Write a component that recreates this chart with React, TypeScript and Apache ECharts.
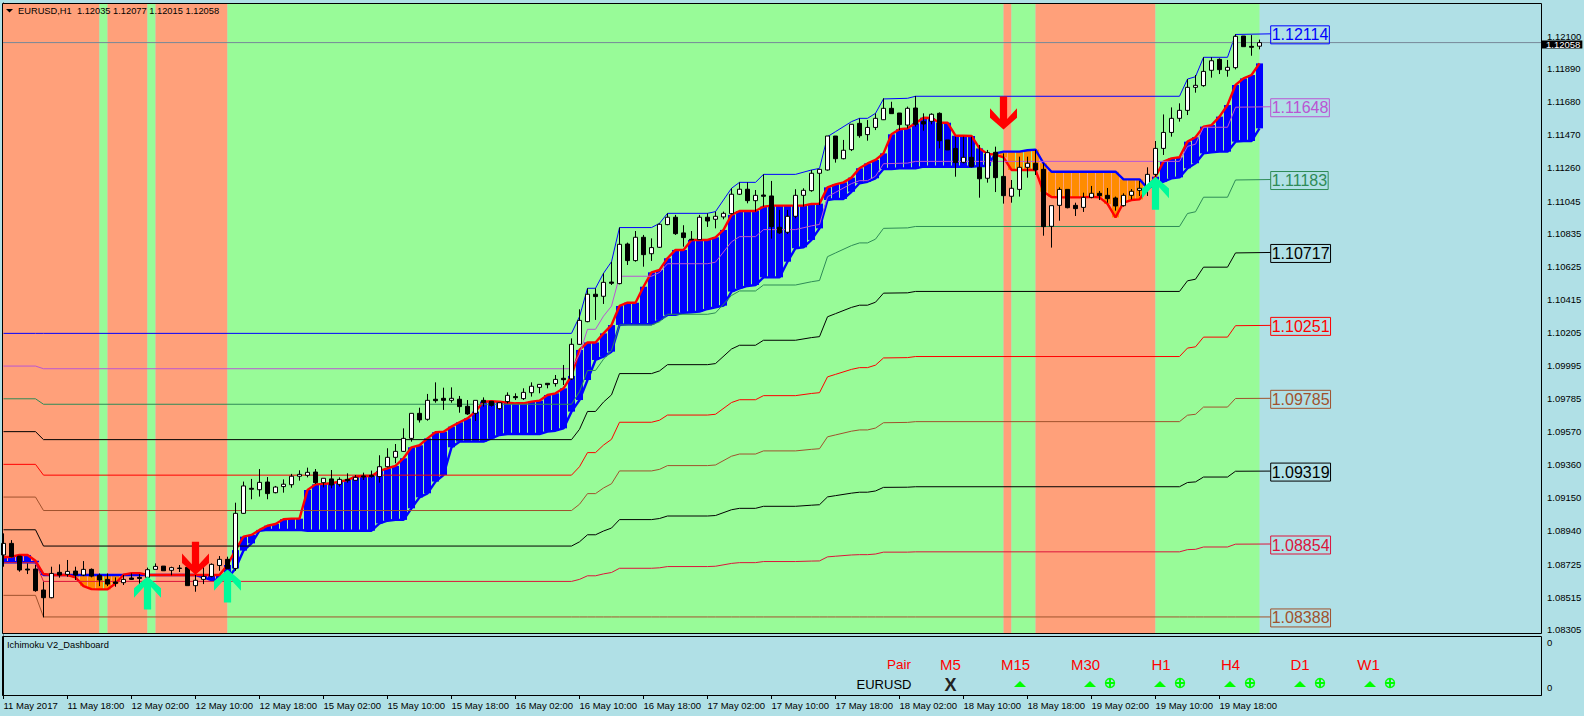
import React, { useEffect, useRef } from "react";
import * as echarts from "echarts";

// All price values below are in points above 1.08000 (1 point = 0.00001).
const BASE_PRICE = 1.08;
const price = (pts: number) => +(BASE_PRICE + pts / 100000).toFixed(5);

// [open, close, low, high]
const candles: number[][] = [
  [784,858,709,922],[858,773,769,879],[777,688,677,777],[694,688,662,730],[694,556,549,720],[560,511,385,613],[511,666,507,709],[673,656,639,724],
  [660,679,645,752],[681,656,624,709],[656,692,649,745],[692,649,641,698],[654,624,585,666],[628,598,585,666],[611,602,581,641],[607,628,592,656],
  [637,628,624,666],[641,634,598,662],[641,690,634,703],[692,711,692,730],[713,683,683,713],[686,703,654,709],[700,698,675,720],[705,588,588,705],
  [588,622,549,656],[628,647,598,726],[647,724,641,730],[717,756,683,777],[756,696,692,773],[698,1050,683,1118],[1050,1225,1046,1253],[1210,1204,1140,1270],
  [1201,1248,1157,1333],[1250,1176,1140,1282],[1182,1218,1178,1225],[1221,1236,1182,1267],[1233,1287,1214,1302],[1287,1299,1259,1325],[1293,1312,1280,1342],[1314,1246,1238,1333],
  [1246,1274,1216,1274],[1270,1231,1210,1327],[1235,1267,1221,1280],[1267,1259,1246,1306],[1261,1280,1259,1295],[1289,1282,1263,1310],[1293,1285,1278,1323],[1285,1348,1246,1421],
  [1348,1408,1344,1466],[1408,1446,1370,1493],[1446,1529,1442,1593],[1529,1689,1508,1689],[1689,1647,1630,1725],[1651,1772,1642,1813],[1779,1770,1757,1887],[1785,1772,1711,1853],
  [1772,1785,1757,1855],[1779,1732,1693,1800],[1734,1685,1679,1774],[1689,1772,1640,1772],[1772,1759,1732,1791],[1766,1740,1732,1766],[1719,1757,1711,1757],[1764,1804,1753,1823],
  [1796,1789,1774,1817],[1783,1823,1774,1849],[1821,1862,1796,1887],[1855,1874,1817,1874],[1881,1872,1849,1881],[1879,1906,1860,1934],[1913,1904,1870,1998],[1909,2130,1902,2168],
  [2130,2283,2126,2354],[2275,2450,2271,2488],[2450,2435,2286,2488],[2437,2526,2388,2584],[2528,2520,2509,2658],[2518,2769,2513,2876],[2771,2665,2637,2780],[2665,2814,2658,2854],
  [2814,2703,2626,2829],[2709,2748,2663,2807],[2750,2897,2746,2903],[2895,2942,2891,2967],[2942,2837,2829,2957],[2842,2812,2754,2891],[2801,2797,2797,2854],[2799,2942,2797,2957],
  [2942,2918,2880,2967],[2929,2948,2871,2978],[2944,2967,2929,2978],[2965,3089,2961,3127],[3089,3121,3084,3165],[3121,3048,3031,3165],[3048,3082,2978,3116],[3084,3076,3010,3216],
  [3078,2882,2805,3174],[2878,2842,2835,2989],[2846,2948,2835,2989],[2948,3082,2935,3121],[3082,3114,3010,3127],[3112,3223,3105,3244],[3223,3248,3020,3248],[3244,3461,3240,3461],
  [3461,3316,3291,3461],[3316,3370,3312,3436],[3374,3536,3365,3536],[3542,3463,3450,3574],[3470,3516,3431,3563],[3516,3574,3499,3606],[3565,3638,3563,3702],[3638,3604,3604,3680],
  [3608,3534,3499,3608],[3531,3638,3510,3649],[3640,3536,3521,3717],[3553,3538,3495,3606],[3555,3600,3536,3606],[3606,3431,3382,3612],[3436,3372,3372,3436],[3382,3291,3201,3457],
  [3293,3325,3286,3457],[3325,3265,3261,3457],[3261,3188,3067,3404],[3191,3355,3163,3372],[3357,3195,3103,3393],[3203,3080,3029,3350],[3076,3127,3035,3180],[3120,3261,3074,3329],
  [3261,3287,3195,3329],[3287,3244,3212,3372],[3248,2882,2824,3287],[2884,3016,2748,3016],[3018,3120,2920,3133],[3120,3003,2999,3120],[3018,2997,2950,3035],[3005,3069,2976,3099],
  [3069,3095,3063,3142],[3095,3080,3052,3110],[3082,3061,3035,3129],[3065,3014,2984,3074],[3016,3082,3010,3095],[3082,3108,3056,3122],[3114,3127,3078,3174],[3125,3216,3078,3261],
  [3216,3382,3201,3429],[3382,3484,3340,3599],[3484,3574,3457,3644],[3574,3625,3553,3670],[3625,3772,3595,3825],[3772,3785,3738,3851],[3783,3874,3776,3964],[3881,3942,3834,3964],
  [3951,3885,3857,3957],[3881,3900,3840,3947],[3898,4098,3887,4111],[4100,4032,4032,4100],[4034,4028,3974,4106],[4035,4058,4015,4077],
];

const senkouA: number[] = [
  769,773,784,784,747,662,656,656,656,641,585,566,564,564,602,658,668,668,656,656,656,656,656,656,656,656,656,656,720,815,
  901,912,944,971,982,1012,1016,1016,1199,1235,1238,1242,1253,1263,1285,1289,1289,1321,1338,1353,1402,1472,1485,1529,1568,1572,1604,1632,1657,1700,
  1764,1766,1764,1757,1753,1753,1764,1770,1806,1817,1849,1928,2094,2142,2142,2200,2253,2375,2396,2396,2498,2590,2605,2680,2733,2733,2797,2797,2797,2814,
  2861,2957,2982,2982,2982,3010,3016,3016,3016,3016,3016,3027,3029,3133,3152,3165,3195,3255,3286,3308,3350,3472,3504,3510,3542,3578,3576,3546,3546,3463,
  3463,3461,3382,3346,3342,3325,3244,3244,3244,3244,3105,3071,3069,3069,3069,3069,3073,3069,3027,2941,3035,3052,3056,3127,3201,3297,3318,3325,3425,3453,
  3521,3531,3585,3659,3787,3829,3851,3925,
];

const senkouB: number[] = [
  737,737,737,737,737,656,656,656,656,656,656,656,656,656,656,656,656,656,656,656,656,656,656,656,656,641,624,628,634,698,
  812,858,939,944,944,944,944,944,939,939,939,939,939,939,939,939,939,986,1003,1008,1008,1082,1152,1178,1253,1295,1472,1508,1508,1508,
  1508,1529,1551,1557,1557,1557,1557,1557,1572,1578,1593,1700,1774,1902,2030,2051,2083,2254,2258,2258,2258,2258,2286,2318,2318,2332,2335,2339,2356,2367,
  2377,2467,2488,2503,2509,2558,2558,2558,2658,2744,2750,2797,2871,3052,3059,3059,3105,3159,3169,3191,3250,3250,3254,3254,3254,3265,3265,3265,3265,3265,
  3265,3265,3269,3269,3350,3361,3361,3361,3370,3374,3287,3233,3233,3233,3233,3233,3233,3233,3233,3233,3184,3184,3184,3127,3148,3169,3191,3197,3255,3287,
  3350,3357,3361,3361,3425,3429,3429,3510,
];

// Candle indices at which the nine horizontal levels change
const levelKnots: number[] = [0,4,5,71,72,73,74,75,76,77,81,82,83,88,89,91,92,94,95,99,101,102,103,104,106,107,108,109,110,113,114,147,148,149,150,153,154,158.4];

const level1Blue: number[] = [2200,2200,2200,2200,2307,2488,2488,2584,2658,2876,2876,2903,2967,2967,2978,3127,3165,3165,3216,3216,3244,3254,3457,3489,3553,3574,3574,3606,3698,3702,3715,3715,3825,3840,3964,3964,4110,4114];
const level2Purple: number[] = [1991,1991,1974,1974,2067,2226,2226,2310,2374,2565,2565,2589,2645,2645,2655,2785,2818,2818,2863,2863,2887,2896,3073,3101,3157,3176,3176,3204,3284,3288,3299,3299,3395,3409,3517,3517,3645,3648];
const level3Green: number[] = [1782,1782,1747,1747,1827,1963,1963,2035,2091,2254,2254,2274,2322,2322,2331,2442,2471,2471,2509,2509,2530,2538,2690,2714,2761,2778,2778,2802,2871,2874,2883,2883,2966,2977,3070,3070,3180,3183];
const level4Black: number[] = [1572,1572,1521,1521,1587,1701,1701,1761,1807,1943,1943,1960,2000,2000,2007,2100,2124,2124,2156,2156,2173,2179,2306,2326,2366,2380,2380,2399,2457,2459,2468,2468,2536,2546,2623,2623,2714,2717];
const level5Red: number[] = [1363,1363,1294,1294,1348,1438,1438,1486,1523,1632,1632,1645,1678,1678,1683,1758,1776,1776,1802,1802,1816,1821,1922,1938,1970,1981,1981,1997,2043,2045,2052,2052,2106,2114,2176,2176,2249,2251];
const level6Brown: number[] = [1154,1154,1068,1068,1108,1176,1176,1212,1239,1321,1321,1331,1355,1355,1359,1415,1429,1429,1449,1449,1459,1463,1539,1551,1575,1583,1583,1595,1629,1631,1636,1636,1677,1683,1729,1729,1784,1785];
const level7Black: number[] = [945,945,841,841,868,913,913,937,956,1010,1010,1017,1033,1033,1036,1073,1082,1082,1095,1095,1102,1105,1155,1163,1179,1185,1185,1193,1216,1217,1220,1220,1247,1251,1282,1282,1319,1320];
const level8Red: number[] = [735,735,615,615,628,651,651,663,672,699,699,702,710,710,712,730,735,735,742,742,745,746,772,776,784,786,786,790,802,802,804,804,818,820,835,835,853,854];
const level9Brown: number[] = [526,526,388,388,388,388,388,388,388,388,388,388,388,388,388,388,388,388,388,388,388,388,388,388,388,388,388,388,388,388,388,388,388,388,388,388,388,388];

const levelLabels = ["1.12114","1.11648","1.11183","1.10717","1.10251","1.09785","1.09319","1.08854","1.08388"];

const arrowsUp: number[][] = [[18,541],[28,586],[144,3095]];
const arrowsDown: number[][] = [[24,763],[125,3608]];

// [from candle, to candle, kind: 0 salmon, 1 green]
const zones: number[][] = [[-1,12,0],[12,13,1],[13,18,0],[18,19,1],[19,28,0],[28,125,1],[125,126,0],[126,129,1],[129,144,0],[144,157,1]];

const lastPricePts = 4058;

const priceTicks = ["1.12100","1.11890","1.11680","1.11470","1.11260","1.11045","1.10835","1.10625","1.10415","1.10205","1.09995","1.09785","1.09570","1.09360","1.09150","1.08940","1.08725","1.08515","1.08305"];
const timeTicks = ["11 May 2017","11 May 18:00","12 May 02:00","12 May 10:00","12 May 18:00","15 May 02:00","15 May 10:00","15 May 18:00","16 May 02:00","16 May 10:00","16 May 18:00","17 May 02:00","17 May 10:00","17 May 18:00","18 May 02:00","18 May 10:00","18 May 18:00","19 May 02:00","19 May 10:00","19 May 18:00"];
const dashboardFrames = ["M5","M15","M30","H1","H4","D1","W1"];
const chartTitle = "EURUSD,H1  1.12035 1.12077 1.12015 1.12058";
const subTitle = "Ichimoku V2_Dashboard";

// ---- styling / layout constants ----
const FONT = "'Liberation Sans', Arial, sans-serif";
const BG = "#B0E0E6";
const ZONE_COLORS = ["#FFA07A", "#98FB98"];
const LEVEL_STYLES = ["#0000FF","#BA55D3","#2E8B57","#000000","#FF0000","#A0522D","#000000","#DC143C","#A0522D"];
const X_MIN = -0.0625;
const X_MAX = 192.1875;
const frameX = [950.5,1015.5,1085.5,1161,1230.5,1300,1368.5];
const triangleX = [1020,1090,1160,1230,1300,1370];
const crossX = [1110,1180,1250,1320,1390];
const UP_ARROW = "path://M41 0L82 30L82 55L52 27L52 85L30 85L30 27L0 55L0 30Z";
const DOWN_ARROW = "path://M30 0L52 0L52 58L82 30L82 55L41 85L0 55L0 30L30 58Z";

function dashboardGraphics(): any[] {
  const out: any[] = [];
  const text = (t: string, x: number, y: number, size: number, fill: string, align = "center", extra: any = {}) => ({
    type: "text", x, y, silent: true, z: 100,
    style: { text: t, fontSize: size, fontFamily: FONT, fill, align, verticalAlign: "middle", textAlign: align, textVerticalAlign: "middle", ...extra },
  });
  out.push({ type: "rect", silent: true, z: 99, shape: { x: 2.5, y: 3.5, width: 1539, height: 630 }, style: { fill: "none", stroke: "#000", lineWidth: 1 } });
  out.push({ type: "rect", silent: true, z: 99, shape: { x: 2.5, y: 636.5, width: 1539, height: 59 }, style: { fill: "none", stroke: "#000", lineWidth: 1 } });
  out.push({ type: "polygon", silent: true, z: 100, shape: { points: [[6,9],[13,9],[9.5,12.5]] }, style: { fill: "#000" } });
  out.push(text(chartTitle, 18, 11, 9.3, "#000", "left"));
  out.push(text(subTitle, 7, 644.5, 9.3, "#000", "left"));
  out.push(text("Pair", 899, 664, 13.5, "#FF0000"));
  dashboardFrames.forEach((f, i) => out.push(text(f, frameX[i], 664, 15, "#FF0000")));
  out.push(text("EURUSD", 884, 684, 13, "#000"));
  out.push(text("X", 950.5, 685, 18, "#222222", "center", { fontWeight: "bold" }));
  triangleX.forEach((x) => out.push({ type: "polygon", silent: true, z: 100, shape: { points: [[x - 6, 687],[x + 6, 687],[x, 681]] }, style: { fill: "#00FF00" } }));
  crossX.forEach((x) => {
    out.push({ type: "circle", silent: true, z: 100, shape: { cx: x, cy: 683, r: 4.5 }, style: { fill: "none", stroke: "#00FF00", lineWidth: 1.4 } });
    out.push({ type: "line", silent: true, z: 100, shape: { x1: x - 4, y1: 683, x2: x + 4, y2: 683 }, style: { stroke: "#00FF00", lineWidth: 2 } });
    out.push({ type: "line", silent: true, z: 100, shape: { x1: x, y1: 679, x2: x, y2: 687 }, style: { stroke: "#00FF00", lineWidth: 2 } });
  });
  return out;
}

function buildOption(): any {
  const levels = [level1Blue, level2Purple, level3Green, level4Black, level5Red, level6Brown, level7Black, level8Red, level9Brown];
  const levelSeries = levels.map((vals, i) => ({
    type: "line", name: levelLabels[i], xAxisIndex: 0, yAxisIndex: 0, z: 4, silent: true,
    showSymbol: false, symbol: "none",
    lineStyle: { color: LEVEL_STYLES[i], width: 1 },
    data: vals.map((v, j) => [levelKnots[j], price(v)]),
    endLabel: {
      show: true, formatter: levelLabels[i], color: LEVEL_STYLES[i], fontFamily: FONT, fontSize: 16, lineHeight: 16,
      borderColor: LEVEL_STYLES[i], borderWidth: 1, padding: [1, 1, 1, 1], distance: 0, offset: [0, 1],
    },
  }));

  return {
    animation: false,
    backgroundColor: BG,
    textStyle: { fontFamily: FONT },
    tooltip: { show: false },
    grid: [
      { left: 3, top: 3, width: 1538, height: 631, outerBoundsMode: "none" },
      { left: 3, top: 636, width: 1538, height: 59, outerBoundsMode: "none" },
    ],
    xAxis: [
      { type: "value", gridIndex: 0, min: X_MIN, max: X_MAX, show: false, splitLine: { show: false } },
      {
        type: "value", gridIndex: 1, min: X_MIN, max: X_MAX, splitLine: { show: false },
        axisLine: { show: true, lineStyle: { color: "#000" } },
        axisTick: { show: true, length: 4, lineStyle: { color: "#000" }, customValues: timeTicks.map((_, i) => i * 8) },
        axisLabel: {
          show: true, customValues: timeTicks.map((_, i) => i * 8), formatter: (v: number) => timeTicks[v / 8] ?? "",
          align: "left", margin: 5, fontSize: 9.5, fontFamily: FONT, color: "#000",
        },
      },
    ],
    yAxis: [
      {
        type: "value", gridIndex: 0, position: "right", min: price(279), max: price(4311), splitLine: { show: false },
        axisLine: { show: true, lineStyle: { color: "#000" } },
        axisTick: { show: true, length: 4, lineStyle: { color: "#000" }, customValues: priceTicks.map(Number) },
        axisLabel: {
          show: true, customValues: priceTicks.map(Number), formatter: (v: number) => v.toFixed(5),
          margin: 6, fontSize: 9.5, lineHeight: 8, fontFamily: FONT, color: "#000",
        },
      },
      {
        type: "value", gridIndex: 1, position: "right", min: 0, max: 1, splitLine: { show: false },
        axisLine: { show: true, lineStyle: { color: "#000" } },
        axisTick: { show: true, length: 4, lineStyle: { color: "#000" }, customValues: [0, 1] },
        axisLabel: { show: true, customValues: [0.124, 0.886], formatter: () => "0", margin: 6, fontSize: 9.5, fontFamily: FONT, color: "#000" },
      },
    ],
    series: [
      {
        type: "custom", name: "zones", xAxisIndex: 0, yAxisIndex: 0, z: 1, silent: true, clip: true,
        encode: { x: [0, 1] },
        data: zones,
        renderItem: (params: any, api: any) => {
          const cs = params.coordSys;
          const x0 = api.coord([api.value(0), price(2000)])[0];
          const x1 = api.coord([api.value(1), price(2000)])[0];
          return { type: "rect", shape: { x: x0, y: cs.y, width: x1 - x0, height: cs.height }, style: { fill: ZONE_COLORS[api.value(2)] } };
        },
      },
      {
        type: "custom", name: "cloud", xAxisIndex: 0, yAxisIndex: 0, z: 2, silent: true, clip: true,
        encode: { x: 0, y: [1, 2] },
        data: senkouA.map((a, i) => [i, price(a), price(senkouB[i])]),
        renderItem: (_p: any, api: any) => {
          const a = api.coord([api.value(0), api.value(1)]);
          const b = api.coord([api.value(0), api.value(2)]);
          const above = api.value(1) >= api.value(2);
          const top = Math.min(a[1], b[1]);
          return { type: "rect", shape: { x: a[0] - 3.5, y: top, width: 7, height: Math.abs(a[1] - b[1]) }, style: { fill: above ? "#0000FF" : "#FF8C00" } };
        },
      },
      {
        type: "line", name: "Senkou B", xAxisIndex: 0, yAxisIndex: 0, z: 3, silent: true, showSymbol: false, symbol: "none",
        lineStyle: { color: "#0000FF", width: 2.4 }, data: senkouB.map((v, i) => [i, price(v)]),
      },
      {
        type: "line", name: "Senkou A", xAxisIndex: 0, yAxisIndex: 0, z: 3, silent: true, showSymbol: false, symbol: "none",
        lineStyle: { color: "#FF0000", width: 2.4 }, data: senkouA.map((v, i) => [i, price(v)]),
      },
      ...levelSeries,
      {
        type: "line", name: "Last", xAxisIndex: 0, yAxisIndex: 0, z: 4, silent: true, showSymbol: false, symbol: "none",
        lineStyle: { color: "#778899", width: 1 },
        data: [[X_MIN, price(lastPricePts)], [X_MAX, price(lastPricePts)]],
        endLabel: {
          show: true, formatter: () => price(lastPricePts).toFixed(5), color: "#fff", backgroundColor: "#000",
          fontFamily: FONT, fontSize: 9.5, lineHeight: 8, padding: [0, 2, 0, 4], distance: 1, offset: [0, 2],
        },
      },
      {
        type: "candlestick", name: "EURUSD", xAxisIndex: 0, yAxisIndex: 0, z: 5, silent: true, barWidth: 5,
        encode: { x: 0, y: [1, 2, 3, 4] },
        itemStyle: { color: "#FFFFFF", color0: "#000000", borderColor: "#000000", borderColor0: "#000000", borderWidth: 1 },
        data: candles.map((c, i) => [i, price(c[0]), price(c[1]), price(c[2]), price(c[3])]),
      },
      {
        type: "scatter", name: "Buy", xAxisIndex: 0, yAxisIndex: 0, z: 6, silent: true, symbol: UP_ARROW, symbolSize: [27, 33],
        itemStyle: { color: "#00FA9A", opacity: 1 }, data: arrowsUp.map(([k, p]) => [k, price(p)]),
      },
      {
        type: "scatter", name: "Sell", xAxisIndex: 0, yAxisIndex: 0, z: 6, silent: true, symbol: DOWN_ARROW, symbolSize: [27, 33],
        itemStyle: { color: "#FF0000", opacity: 1 }, data: arrowsDown.map(([k, p]) => [k, price(p)]),
      },
      // keeps the lower pane's axes alive
      { type: "line", xAxisIndex: 1, yAxisIndex: 1, silent: true, showSymbol: false, lineStyle: { opacity: 0 }, data: [] },
    ],
    graphic: dashboardGraphics(),
  };
}

export default function App() {
  const ref = useRef<HTMLDivElement | null>(null);
  useEffect(() => {
    document.body.style.margin = "0";
    document.body.style.overflow = "hidden";
    const chart = echarts.init(ref.current!, undefined, { renderer: "svg" });
    chart.setOption(buildOption());
    return () => chart.dispose();
  }, []);
  return <div ref={ref} style={{ position: "absolute", left: 0, top: 0, width: 1584, height: 716 }} />;
}
